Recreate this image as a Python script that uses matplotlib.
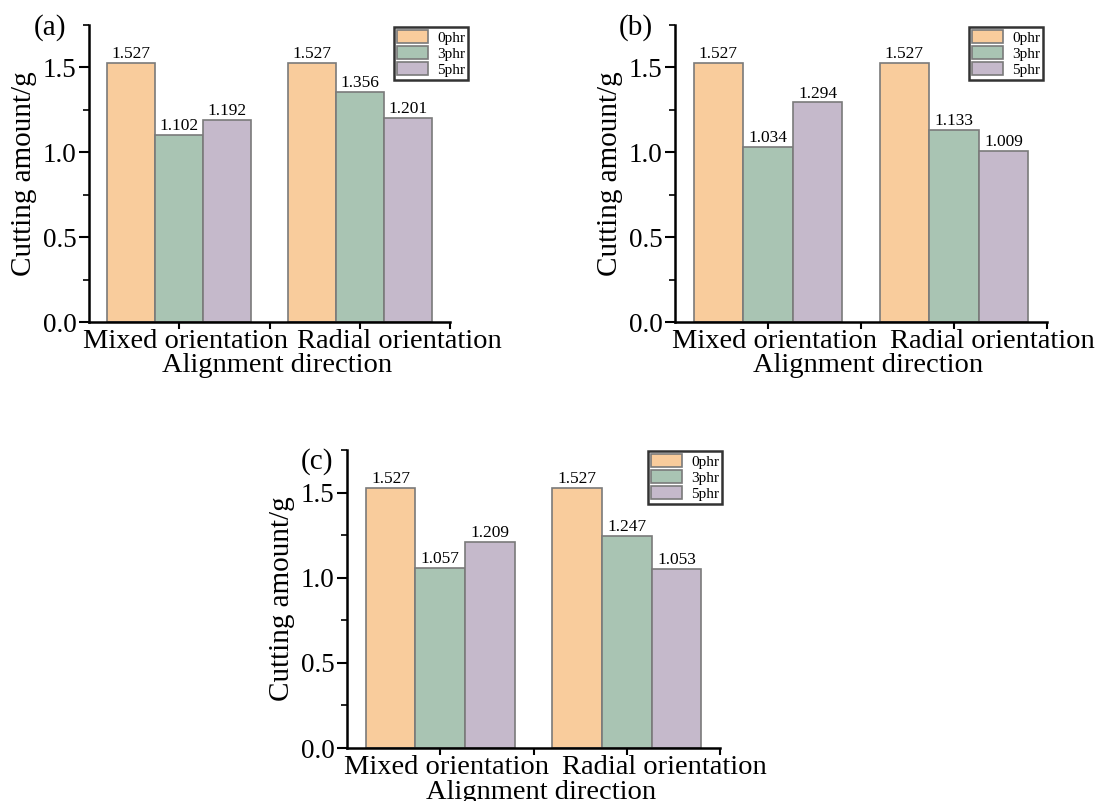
import matplotlib
matplotlib.use("Agg")
import matplotlib.pyplot as plt
from matplotlib.ticker import MultipleLocator

plt.rcParams['font.family'] = ['Liberation Serif', 'DejaVu Serif']

# Data
groups = ['Mixed orientation', 'Radial orientation']
series = ['0phr', '3phr', '5phr']
panel_a = [[1.527, 1.527], [1.102, 1.356], [1.192, 1.201]]
panel_b = [[1.527, 1.527], [1.034, 1.133], [1.294, 1.009]]
panel_c = [[1.527, 1.527], [1.057, 1.247], [1.209, 1.053]]
panel_tags = ['(a)', '(b)', '(c)']

colors = ['#F9CC9C', '#A9C4B3', '#C5B9CB']
edge = '#7a7a7a'

W, H = 1104, 801
fig = plt.figure(figsize=(W / 100, H / 100), dpi=100)

# pixel boxes: left, top, right, bottom
boxes = [(89, 25, 450, 322), (675, 25, 1047, 322), (347, 450, 720, 748)]
legend_corner = [(468, 27), (1043, 27), (722, 451)]
tag_pos = [(34, 14), (619, 14), (301, 448)]


def draw_panel(values, box, leg_xy, tag, tag_xy):
    l, t, r, b = box
    ax = fig.add_axes([l / W, 1 - b / H, (r - l) / W, (b - t) / H])
    width = 0.8 / 3
    x = [0, 1]
    for i, vals in enumerate(values):
        pos = [xx + (i - 1) * width for xx in x]
        bars = ax.bar(pos, vals, width, color=colors[i], edgecolor=edge,
                      linewidth=1.2, label=series[i])
        for rect, v in zip(bars, vals):
            ax.text(rect.get_x() + rect.get_width() / 2, v + 0.005, f'{v:.3f}',
                    ha='center', va='bottom', fontsize=12.5)
    ax.set_xlim(-0.5, 1.5)
    ax.set_ylim(0, 1.75)
    ax.set_xticks([0, 0.5, 1, 1.5])
    ax.set_xticklabels([])
    # category names sit under the ticks, the second one starts left of its tick
    xt = ax.get_xaxis_transform()
    ax.text(x[0] + 0.035, -0.088, groups[0], transform=xt, ha='center',
            va='baseline', fontsize=20.5)
    ax.text(x[1] - 0.345, -0.088, groups[1], transform=xt, ha='left',
            va='baseline', fontsize=20.5)
    ax.set_yticks([0, 0.5, 1.0, 1.5])
    ax.set_yticklabels(['0.0', '0.5', '1.0', '1.5'], fontsize=19.5)
    ax.yaxis.set_minor_locator(MultipleLocator(0.25))
    ax.tick_params(axis='y', which='major', length=7, width=1.5, pad=2)
    ax.tick_params(axis='x', which='major', length=5, width=1.5)
    ax.tick_params(axis='y', which='minor', length=4, width=1.2)
    ax.spines['top'].set_visible(False)
    ax.spines['right'].set_visible(False)
    ax.spines['left'].set_linewidth(1.8)
    ax.spines['bottom'].set_linewidth(1.8)
    ax.set_xlabel('Alignment direction', fontsize=20.5, va='baseline')
    ax.xaxis.set_label_coords(0.52, -0.17)
    ax.set_ylabel('Cutting amount/g', fontsize=21, labelpad=4)

    leg = ax.legend(loc='upper right',
                    bbox_to_anchor=(leg_xy[0] / W, 1 - leg_xy[1] / H),
                    bbox_transform=fig.transFigure, fontsize=11,
                    frameon=True, fancybox=False, handlelength=2.0,
                    handleheight=0.9, labelspacing=0.1, borderpad=0.2,
                    handletextpad=0.6, borderaxespad=0)
    leg.get_frame().set_edgecolor('black')
    leg.get_frame().set_linewidth(1.8)

    fig.text(tag_xy[0] / W, 1 - tag_xy[1] / H, tag, fontsize=21,
             ha='left', va='top')


for vals, box, lxy, tag, txy in zip([panel_a, panel_b, panel_c], boxes,
                                    legend_corner, panel_tags, tag_pos):
    draw_panel(vals, box, lxy, tag, txy)

fig.savefig('out.png', dpi=100)
